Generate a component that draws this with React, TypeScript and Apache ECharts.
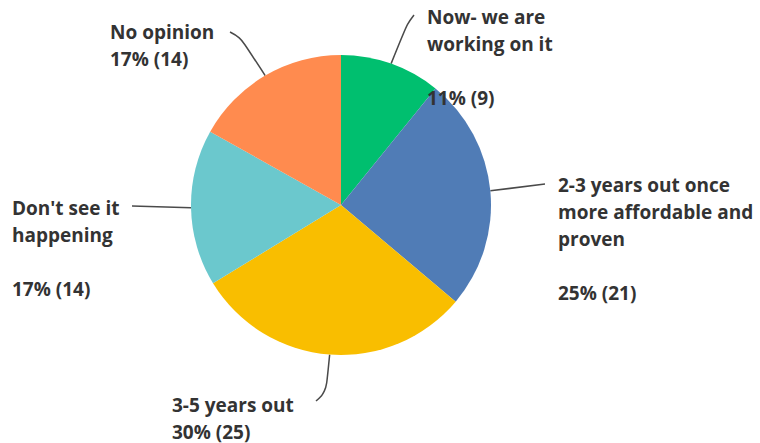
import React, { useEffect, useRef } from 'react';
import * as echarts from 'echarts';

const categories = [
  'Now- we are working on it',
  '2-3 years out once more affordable and proven',
  '3-5 years out',
  "Don't see it happening",
  'No opinion',
];
const labelLines = [
  'Now- we are\nworking on it\n',
  '2-3 years out once\nmore affordable and\nproven\n',
  '3-5 years out',
  "Don't see it\nhappening\n",
  'No opinion',
];
const counts = [9, 21, 25, 14, 14];
const colors = ['#00BF6F', '#507CB6', '#F9BE00', '#6BC8CD', '#FF8B4F'];

// label layout (top-left of text block) and leader-line bends
const labelAnchors: number[][] = [[427, 3], [558, 171], [172, 391], [12, 194], [110, 18]];
const leaderPaths: number[][][] = [
  [[407, 24], [414, 15]],
  [[545, 184]],
  [[326, 392], [316, 401]],
  [[132, 206]],
  [[240, 37], [230, 32]],
];

export default function App() {
  const ref = useRef<HTMLDivElement>(null);
  useEffect(() => {
    if (!ref.current) return;
    const chart = echarts.init(ref.current, undefined, { renderer: 'svg' });
    chart.setOption({
      animation: false,
      backgroundColor: '#ffffff',
      series: [
        {
          type: 'pie',
          center: [341, 205],
          radius: 150,
          startAngle: 90,
          clockwise: true,
          silent: true,
          avoidLabelOverlap: false,
          data: categories.map((name, i) => ({
            name,
            value: counts[i],
            itemStyle: { color: colors[i] },
          })),
          label: {
            show: true,
            position: 'outside',
            overflow: 'none',
            formatter: (p: any) =>
              `${labelLines[p.dataIndex]}\n${Math.round(p.percent)}% (${p.value})`,
            fontFamily: 'Open Sans',
            fontWeight: 700,
            fontSize: 19,
            lineHeight: 27,
            color: '#333333',
          },
          labelLine: {
            show: true,
            smooth: 0.4,
            length: 20,
            length2: 20,
            lineStyle: { color: '#4a4a4a', width: 1.5 },
          },
          labelLayout: (params: any) => {
            const i = params.dataIndex;
            const start = params.labelLinePoints ? params.labelLinePoints[0] : null;
            const res: any = {
              x: labelAnchors[i][0],
              y: labelAnchors[i][1],
              align: 'left',
              verticalAlign: 'top',
            };
            if (start) {
              res.labelLinePoints = [start, ...leaderPaths[i]];
            }
            return res;
          },
        },
      ],
    });
    return () => chart.dispose();
  }, []);
  return (
    <div
      ref={ref}
      style={{ position: 'absolute', left: 0, top: 0, width: 760, height: 443 }}
    />
  );
}
